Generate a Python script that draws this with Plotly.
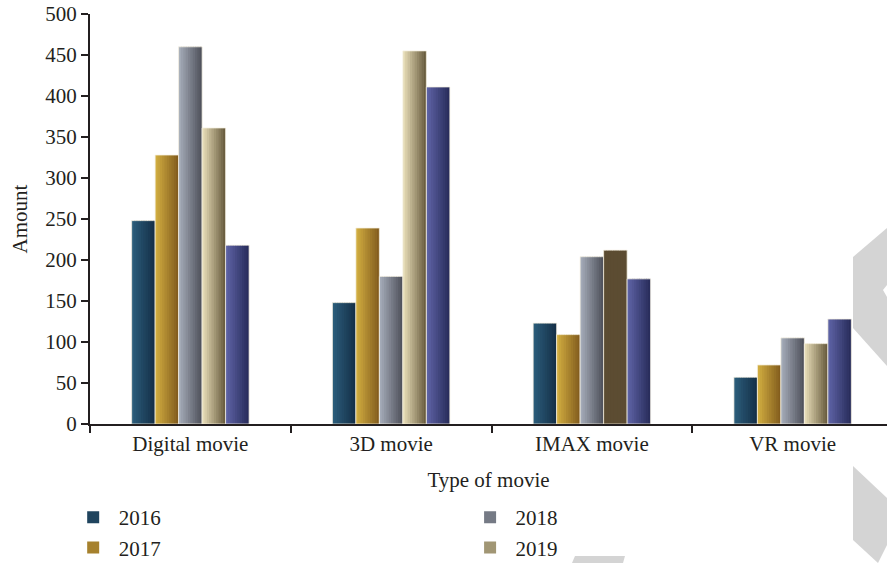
import plotly.graph_objects as go

# ---- data ----
categories = ["Digital movie", "3D movie", "IMAX movie", "VR movie"]
years = ["2016", "2017", "2018", "2019", "2020"]
amount_2016 = [248, 148, 123, 57]
amount_2017 = [328, 239, 109, 72]
amount_2018 = [460, 180, 204, 105]
amount_2019 = [361, 455, 212, 98]
amount_2020 = [218, 411, 177, 128]
series_values = [amount_2016, amount_2017, amount_2018, amount_2019, amount_2020]

# ---- styling ----
# light (left) -> dark (right) shading of each bar
shade_left = [(44, 94, 124), (212, 176, 66), (168, 175, 188), (236, 226, 188), (96, 101, 168)]
shade_right = [(20, 46, 70), (128, 90, 28), (76, 78, 88), (100, 87, 58), (38, 42, 88)]
flat_special = {(3, 2): (92, 76, 50)}   # (series, category) drawn in a flat tone
legend_slot = ["legend", "legend", "legend2", "legend2", None]   # two legend columns

TEXT = "#231f20"
FONT = "Liberation Serif"

n_series = len(years)
bar_w = 0.117
group_w = bar_w * n_series
n_strips = 10
step = bar_w / n_strips


def mix(a, b, t):
    return "rgb(%d,%d,%d)" % tuple(round(a[k] + (b[k] - a[k]) * t) for k in range(3))


fig = go.Figure()

for s in range(n_series):
    start = -group_w / 2 + s * bar_w
    slot = legend_slot[s]
    for j in range(n_strips):
        t = (j + 0.5) / n_strips
        colors = []
        for c in range(len(categories)):
            if (s, c) in flat_special:
                colors.append("rgb(%d,%d,%d)" % flat_special[(s, c)])
            else:
                colors.append(mix(shade_left[s], shade_right[s], t))
        w = step * (1.5 if j < n_strips - 1 else 1.0)
        show = slot is not None and j == n_strips // 2
        fig.add_trace(go.Bar(
            x=categories, y=series_values[s],
            offset=start + j * step, width=w,
            marker=dict(color=colors, line=dict(width=0)),
            name=years[s], legendgroup=years[s], showlegend=show,
            legend=slot or "legend", hoverinfo="skip",
        ))
    # thin light rim around each bar
    fig.add_trace(go.Bar(
        x=categories, y=series_values[s], offset=start, width=bar_w,
        marker=dict(color="rgba(0,0,0,0)", line=dict(width=1, color="rgba(245,240,225,0.75)")),
        legendgroup=years[s], showlegend=False, hoverinfo="skip",
    ))

# decorative grey marks along the right and bottom edges (pixel geometry -> paper coords)
L, R, T, B, W, H = 90, 0, 14, 139, 887, 563
pw, ph = W - L - R, H - T - B


def to_paper(pts):
    out = []
    for i, (px, py) in enumerate(pts):
        xp = (px - L) / pw
        yp = (H - B - py) / ph
        out.append(("M" if i == 0 else "L") + "%.5f,%.5f" % (xp, yp))
    return " ".join(out) + " Z"


marks = [
    [(887, 228), (853, 257), (853, 328), (887, 366), (887, 297), (883, 290), (887, 285)],
    [(853, 466), (887, 498), (887, 545), (878, 563), (853, 540)],
    [(575, 556), (625, 556), (623, 563), (572, 563)],
]
shapes = [dict(type="path", xref="paper", yref="paper", path=to_paper(m),
               fillcolor="#d4d4d4", line=dict(width=0), layer="below") for m in marks]

legend_common = dict(
    orientation="v", xanchor="left", yref="container", y=0.117, yanchor="top",
    itemwidth=41, tracegroupgap=0, traceorder="normal",
    font=dict(family=FONT, size=21, color=TEXT), bgcolor="rgba(0,0,0,0)",
)

fig.update_layout(
    width=W, height=H,
    margin=dict(l=L, r=R, t=T, b=B, pad=0, autoexpand=False),
    paper_bgcolor="white", plot_bgcolor="white",
    barmode="overlay",
    font=dict(family=FONT, size=21, color=TEXT),
    shapes=shapes,
    showlegend=True,
    legend=dict(x=-0.028, **legend_common),
    legend2=dict(x=0.470, **legend_common),
    xaxis=dict(
        type="category", categoryorder="array", categoryarray=categories,
        range=[-0.5, 3.47], tickson="boundaries", automargin=False,
        showline=True, linecolor=TEXT, linewidth=2,
        ticks="outside", ticklen=7, tickwidth=1.5, tickcolor=TEXT,
        showgrid=False, zeroline=False,
        title=dict(text="Type of movie", standoff=17, font=dict(size=21)),
    ),
    yaxis=dict(
        range=[0, 500], dtick=50, automargin=False,
        showline=True, linecolor=TEXT, linewidth=2,
        ticks="outside", ticklen=7, tickwidth=2, tickcolor=TEXT,
        showgrid=False, zeroline=False,
        title=dict(text="Amount", standoff=12, font=dict(size=21)),
    ),
)

fig.write_html("out.html")
